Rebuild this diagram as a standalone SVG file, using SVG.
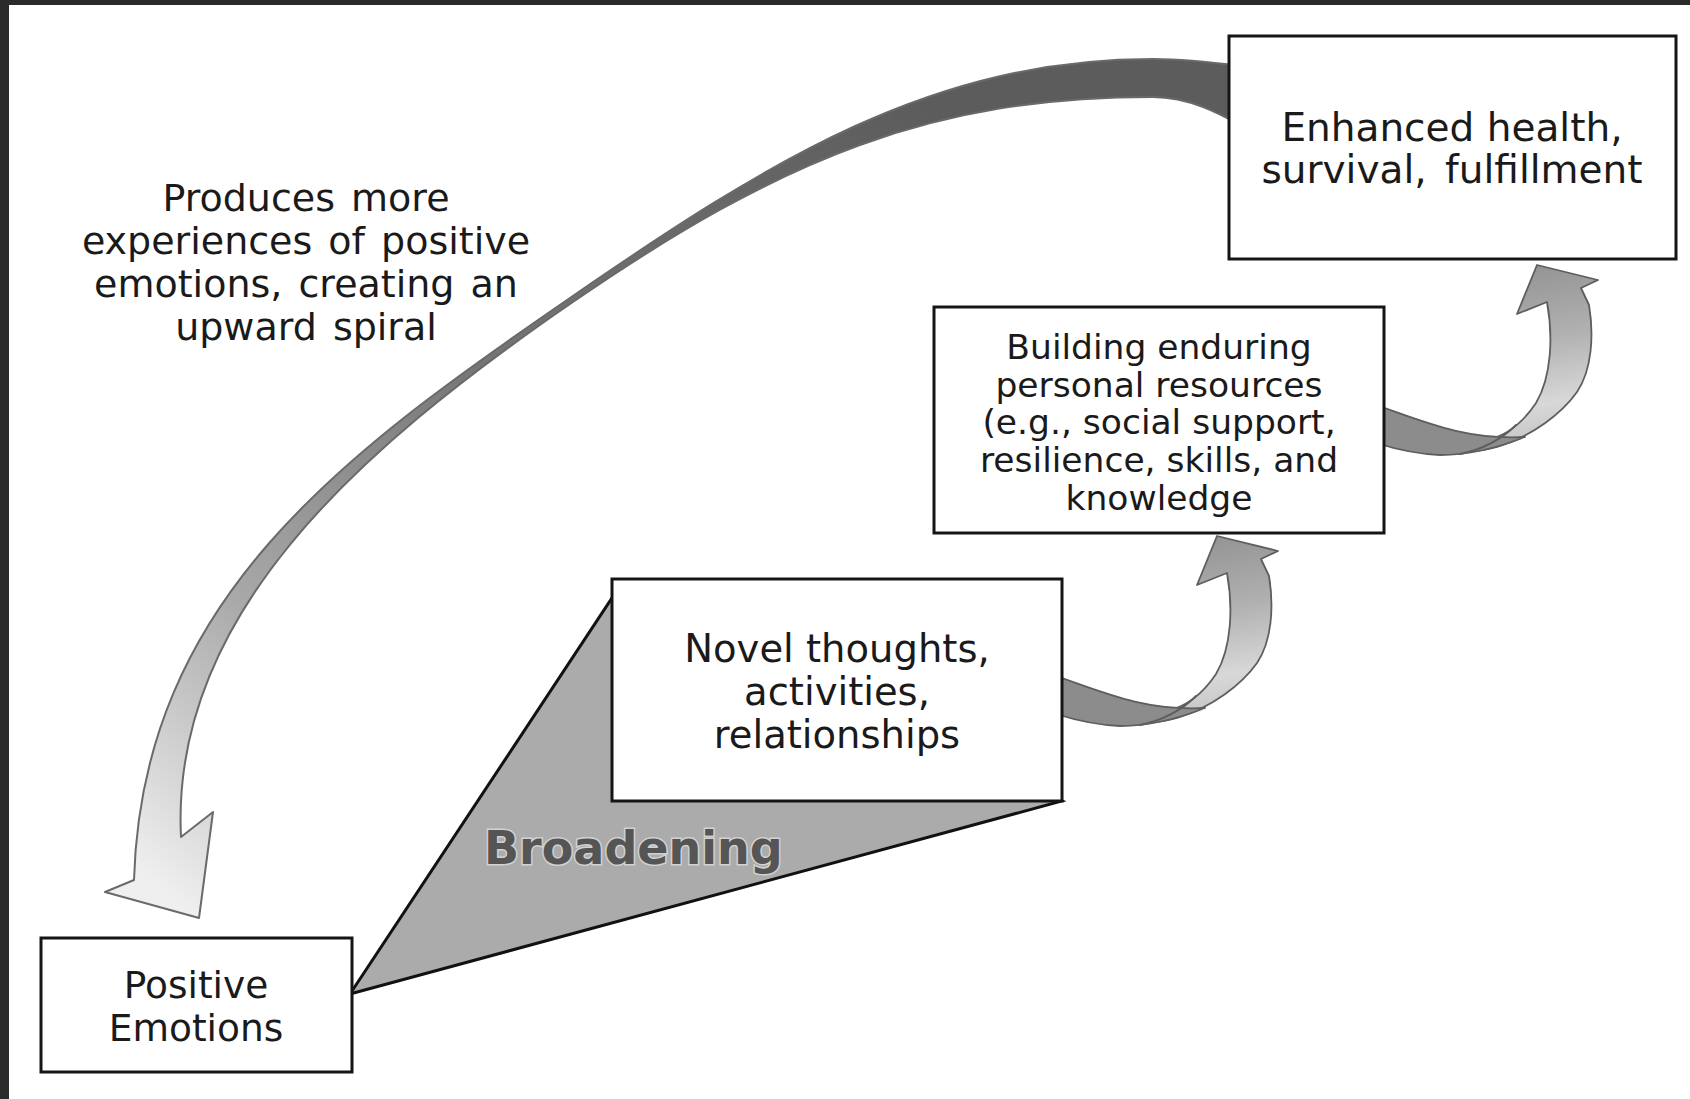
<svg xmlns="http://www.w3.org/2000/svg" xmlns:xlink="http://www.w3.org/1999/xlink" width="1690" height="1099" viewBox="0 0 1690 1099">
<style>
.box{fill:#ffffff;stroke:#151515;stroke-width:3}
.t{font-family:"DejaVu Sans","Verdana",sans-serif;fill:#1a1a1a;text-anchor:middle}
.arc{stroke:#6a6a6a;stroke-width:2;stroke-linejoin:round}
.sa{stroke:#5e5e5e;stroke-width:1.8;stroke-linejoin:round;stroke-linecap:round}
</style>
<defs>
<linearGradient id="gBig" gradientUnits="userSpaceOnUse" x1="900" y1="80" x2="200" y2="920">
<stop offset="0" stop-color="#5c5c5c"/>
<stop offset="0.45" stop-color="#767676"/>
<stop offset="0.75" stop-color="#a8a8a8"/>
<stop offset="1" stop-color="#efefef"/>
</linearGradient>
<linearGradient id="gFront" x1="0.3" y1="0" x2="0.5" y2="1">
<stop offset="0" stop-color="#8e8e8e"/>
<stop offset="0.45" stop-color="#b0b0b0"/>
<stop offset="0.8" stop-color="#d8d8d8"/>
<stop offset="1" stop-color="#c4c4c4"/>
</linearGradient>
<g id="smallArrow">
<path class="sa" fill="url(#gFront)" d="M1376,443 C1420,453 1462,457 1497,447 C1533,436 1562,413 1577,392 C1592,370 1594,335 1589,305 L1581,288 L1598,280 L1537,265 L1517,314 L1547,302 C1553,335 1552,376 1536,403 C1522,424 1505,436 1487,440 C1450,438 1420,421 1376,405 Z"/>
<path class="sa" fill="#8c8c8c" d="M1376,405 C1425,422 1465,440 1525,437 C1500,447 1470,455 1440,455 C1415,454 1395,449 1376,443 Z"/>
<path class="sa" fill="none" d="M1516,425 C1502,439 1484,449 1460,454"/>
</g>
</defs>
<rect x="0" y="0" width="1690" height="1099" fill="#ffffff"/>
<rect x="0" y="0" width="1690" height="5" fill="#2a2a2a"/>
<rect x="0" y="0" width="9" height="1099" fill="#2a2a2a"/>

<g id="connectors">
<path id="spiral-arrow" class="arc" fill="url(#gBig)" d="M1240,66 C1210,62 1180,59 1153,59 C933,59 773,158 567,300 C343,454 142,600 134,880 L105,892 L199,918 L213,812 L181,837 C170,617 355.8,451.4 570,304 C784,156.6 933,97 1153,97 C1190,97 1222,115 1240,125 Z"/>
<use id="arrow-building-enhanced" xlink:href="#smallArrow" href="#smallArrow"/>
<use id="arrow-novel-building" xlink:href="#smallArrow" href="#smallArrow" transform="translate(-320,271)"/>
</g>

<g id="broadening">
<polygon points="350,994 612,598 1062,801" fill="#ababab" stroke="#111111" stroke-width="3"/>
<text x="484" y="864" font-family="DejaVu Sans, Verdana, sans-serif" font-weight="bold" font-size="46" fill="#555555" stroke="#d2d2d2" stroke-width="3" paint-order="stroke">Broadening</text>
</g>

<g id="node-enhanced">
<rect class="box" x="1229" y="36" width="447" height="223"/>
<text class="t" font-size="39" x="1452" y="141">Enhanced health,</text>
<text class="t" font-size="39" x="1452" y="183" word-spacing="6">survival, fulfillment</text>
</g>

<g id="node-building">
<rect class="box" x="934" y="307" width="450" height="226"/>
<text class="t" font-size="34.5" x="1159" y="359">Building enduring</text>
<text class="t" font-size="34.5" x="1159" y="397">personal resources</text>
<text class="t" font-size="34.5" x="1159" y="434">(e.g., social support,</text>
<text class="t" font-size="34.5" x="1159" y="472">resilience, skills, and</text>
<text class="t" font-size="34.5" x="1159" y="510">knowledge</text>
</g>

<g id="node-novel">
<rect class="box" x="612" y="579" width="450" height="222"/>
<text class="t" font-size="38.5" x="837" y="662">Novel thoughts,</text>
<text class="t" font-size="38.5" x="837" y="705">activities,</text>
<text class="t" font-size="38.5" x="837" y="748">relationships</text>
</g>

<g id="node-positive">
<rect class="box" x="41" y="938" width="311" height="134"/>
<text class="t" font-size="37.5" x="196" y="998">Positive</text>
<text class="t" font-size="37.5" x="196" y="1041">Emotions</text>
</g>

<g id="label-spiral">
<text class="t" font-size="38" x="306" y="211" word-spacing="4">Produces more</text>
<text class="t" font-size="38" x="306" y="254" word-spacing="4">experiences of positive</text>
<text class="t" font-size="38" x="306" y="297" word-spacing="4">emotions, creating an</text>
<text class="t" font-size="38" x="306" y="340" word-spacing="4">upward spiral</text>
</g>
</svg>
